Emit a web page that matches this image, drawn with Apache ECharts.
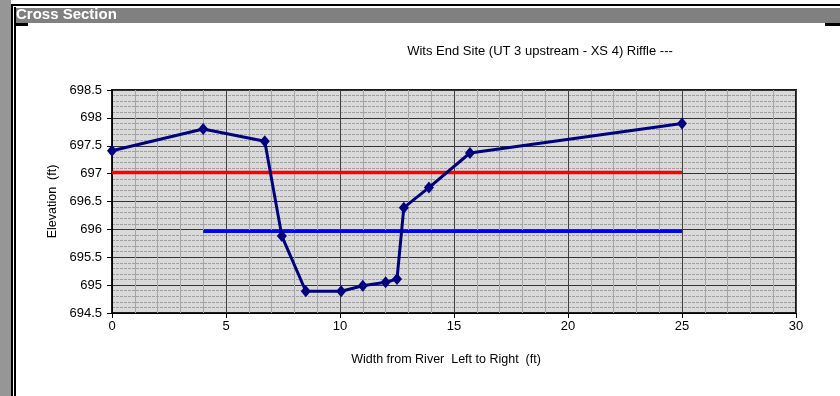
<!DOCTYPE html>
<html>
<head>
<meta charset="utf-8">
<script src="https://cdn.jsdelivr.net/npm/echarts@6/dist/echarts.min.js"></script>
<style>
html,body{margin:0;padding:0;background:#fff;}
#chart{width:840px;height:396px;}
</style>
</head>
<body>
<div id="chart"></div>
<script>
// Data
const panelTitle = "Cross Section";
const chartTitle = "Wits End Site (UT 3 upstream - XS 4) Riffle ---";
const xAxisName = "Width from River  Left to Right  (ft)";
const yAxisName = "Elevation  (ft)";

const widths = [0, 4, 6.7, 7.45, 8.5, 10.05, 11.0, 12.0, 12.5, 12.8, 13.9, 15.7, 25];
const elevations = [697.41, 697.8, 697.58, 695.88, 694.89, 694.89, 694.99, 695.05, 695.11, 696.39, 696.75, 697.37, 697.9];

const bankfullX = [0, 25];
const bankfullY = [697.02, 697.02];
const floodX = [4, 25];
const floodY = [695.96, 695.96];

const xMin = 0, xMax = 30, xStep = 5;
const yMin = 694.5, yMax = 698.5, yStep = 0.5;

const zip = (a, b) => a.map((v, i) => [v, b[i]]);

const chart = echarts.init(document.getElementById('chart'), null, {renderer: 'canvas'});
chart.setOption({
  animation: false,
  backgroundColor: '#ffffff',
  textStyle: {fontFamily: 'Liberation Sans, Arial, sans-serif'},
  title: {
    text: chartTitle,
    left: 535,
    top: 40,
    textAlign: 'center',
    textStyle: {fontSize: 13, fontWeight: 'normal', color: '#000', fontFamily: 'Liberation Sans, Arial, sans-serif'}
  },
  graphic: [
    {type: 'rect', shape: {x: 0, y: 0, width: 11, height: 396}, style: {fill: '#969696'}, silent: true},
    {type: 'rect', shape: {x: 11, y: 4, width: 2, height: 392}, style: {fill: '#000'}, silent: true},
    {type: 'rect', shape: {x: 14, y: 7, width: 2, height: 389}, style: {fill: '#000'}, silent: true},
    {type: 'rect', shape: {x: 11, y: 4, width: 829, height: 2}, style: {fill: '#000'}, silent: true},
    {type: 'rect', shape: {x: 16, y: 8, width: 824, height: 15}, style: {fill: '#808080'}, silent: true},
    {type: 'rect', shape: {x: 16, y: 23, width: 12, height: 3}, style: {fill: '#000'}, silent: true},
    {type: 'rect', shape: {x: 825, y: 23, width: 15, height: 3}, style: {fill: '#000'}, silent: true},
    {type: 'text', left: 16, top: 7, style: {text: panelTitle, fill: '#fff', font: 'bold 15px "Liberation Sans", Arial, sans-serif'}, silent: true}
  ],
  grid: {
    left: 112, top: 90, right: 44, bottom: 83,
    show: true,
    backgroundColor: '#d9d9d9',
    borderColor: '#1a1a1a',
    borderWidth: 2
  },
  xAxis: {
    type: 'value',
    min: xMin, max: xMax, interval: xStep,
    name: xAxisName,
    nameLocation: 'middle',
    nameGap: 40,
    nameTextStyle: {fontSize: 12.5, color: '#000', padding: [0, 16, 0, 0]},
    axisLine: {show: true, onZero: false, lineStyle: {color: '#000', width: 1}},
    axisTick: {show: true, length: 5, lineStyle: {color: '#000'}},
    axisLabel: {fontSize: 13, color: '#000', margin: 7},
    splitLine: {show: true, lineStyle: {color: '#404040', width: 1}},
    minorTick: {show: false, splitNumber: 5},
    minorSplitLine: {show: true, lineStyle: {color: '#a6a6a6', width: 1}}
  },
  yAxis: {
    type: 'value',
    min: yMin, max: yMax, interval: yStep,
    name: yAxisName,
    nameLocation: 'middle',
    nameGap: 49,
    nameTextStyle: {fontSize: 12.5, color: '#000'},
    axisLine: {show: true, lineStyle: {color: '#000', width: 1}},
    axisTick: {show: true, length: 5, lineStyle: {color: '#000'}},
    axisLabel: {fontSize: 13, color: '#000', margin: 10},
    splitLine: {show: true, lineStyle: {color: '#333333', width: 1}},
    minorTick: {show: false, splitNumber: 5},
    minorSplitLine: {show: true, lineStyle: {color: '#a0a0a0', width: 1, type: [3, 1]}}
  },
  series: [
    {
      type: 'line',
      data: zip(bankfullX, bankfullY),
      showSymbol: false,
      symbol: 'none',
      lineStyle: {color: '#ff0000', width: 3.5},
      z: 3
    },
    {
      type: 'line',
      data: zip(floodX, floodY),
      showSymbol: false,
      symbol: 'none',
      lineStyle: {color: '#0000ff', width: 3},
      z: 3
    },
    {
      type: 'line',
      data: zip(widths, elevations),
      symbol: 'diamond',
      symbolSize: [10, 12],
      itemStyle: {color: '#000080'},
      lineStyle: {color: '#000080', width: 3},
      z: 4
    }
  ]
});
</script>
</body>
</html>
